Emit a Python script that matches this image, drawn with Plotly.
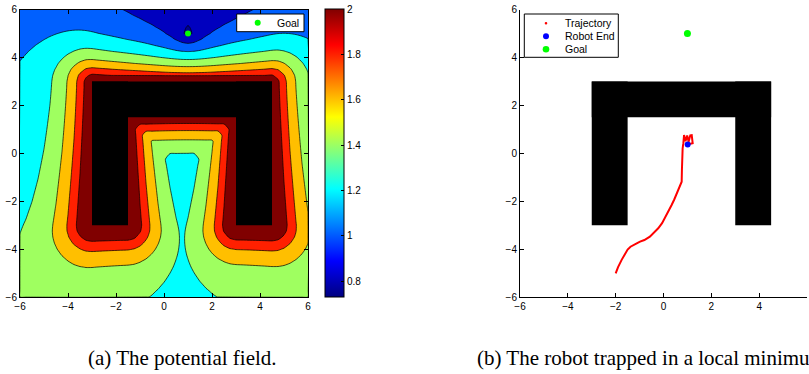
import numpy as np
import plotly.graph_objects as go

# ---------------- data ----------------
GOAL = (1.0, 5.0)
ROBOT_END = (1.01, 0.37)
# U-shaped obstacle as rectangles (x0, x1, y0, y1)
OBSTACLES = [(-3.0, -1.5, -3.0, 3.0), (3.0, 4.5, -3.0, 3.0), (-3.0, 4.5, 1.5, 3.0)]

# potential-field model evaluated on a coarse grid
GRID_MIN, GRID_MAX, GRID_STEP = -6.0, 6.0, 0.25
ATT_OFFSET = 0.713
ATT_SLOPE = 0.05
WELL_DEPTH = 0.285
WELL_WIDTH = 0.6
REP_GAIN = 1.33
REP_RANGE = 1.35
OBSTACLE_VALUE = 4.0
PAD_VALUE = 0.5          # value of the (invisible) frame around the grid -> closed contours

LEVELS = [0.8, 1.0, 1.2, 1.4, 1.6, 1.8, 2.0]
CBAR_MIN, CBAR_MAX = 0.73, 2.0
CBAR_TICKS = [0.8, 1.0, 1.2, 1.4, 1.6, 1.8, 2.0]
CBAR_TICKTEXT = ["0.8", "1", "1.2", "1.4", "1.6", "1.8", "2"]
AXIS_TICKS = [-6, -4, -2, 0, 2, 4, 6]

TRAJ_X = [-2.00, -1.90, -1.75, -1.62, -1.50, -1.38, -1.25, -1.10, -0.98, -0.80, -0.57, -0.40,
          -0.22, -0.06, 0.06, 0.20, 0.34, 0.45, 0.55, 0.66, 0.76, 0.77, 0.78, 0.80, 0.83, 0.84,
          0.86, 0.92, 0.99, 1.05, 1.12, 1.18, 1.21, 1.22, 1.12, 1.01]
TRAJ_Y = [-5.01, -4.75, -4.45, -4.20, -4.02, -3.90, -3.82, -3.75, -3.69, -3.62, -3.48, -3.33,
          -3.13, -2.92, -2.71, -2.45, -2.16, -1.93, -1.67, -1.42, -1.19, -0.70, -0.14, 0.20, 0.42, 0.69,
          0.76, 0.50, 0.74, 0.48, 0.75, 0.76, 0.60, 0.42, 0.40, 0.37]

LEGEND_LEFT = ["Goal"]
LEGEND_RIGHT = ["Trajectory", "Robot End", "Goal"]
CAPTION_A = "(a) The potential field."
CAPTION_B = "(b) The robot trapped in a local minimum."

# ---------------- styles ----------------
# colour of the region below the first level, then of each region above LEVELS[k]
BAND_COLORS = ['rgb(0,0,143)', 'rgb(0,0,191)', 'rgb(0,96,255)', 'rgb(0,255,255)',
               'rgb(159,255,96)', 'rgb(255,191,0)', 'rgb(255,32,0)', 'rgb(128,0,0)']
JET = [[0, 'rgb(0,0,128)'], [0.125, 'rgb(0,0,255)'], [0.375, 'rgb(0,255,255)'],
       [0.625, 'rgb(255,255,0)'], [0.875, 'rgb(255,0,0)'], [1, 'rgb(128,0,0)']]
RED, BLUE, GREEN = 'rgb(255,0,0)', 'rgb(0,0,255)', 'rgb(0,255,0)'
CLEAR = 'rgba(0,0,0,0)'
W, H = 809, 374
FONT = "Liberation Sans, Arial, sans-serif"
SERIF = "Liberation Serif, Times New Roman, serif"


def px(x):
    return x / W


def py(y):
    return 1 - y / H


# ---------------- field ----------------
g = np.arange(GRID_MIN, GRID_MAX + GRID_STEP / 2, GRID_STEP)
X, Y = np.meshgrid(g, g)
d_goal = np.hypot(X - GOAL[0], Y - GOAL[1])
d_obs = np.full_like(X, np.inf)
for x0, x1, y0, y1 in OBSTACLES:
    dx = np.maximum(np.maximum(x0 - X, 0), X - x1)
    dy = np.maximum(np.maximum(y0 - Y, 0), Y - y1)
    d_obs = np.minimum(d_obs, np.hypot(dx, dy))
Z = (ATT_OFFSET + ATT_SLOPE * d_goal - WELL_DEPTH * np.exp(-d_goal / WELL_WIDTH)
     + REP_GAIN * np.exp(-d_obs / REP_RANGE))
Z[d_obs <= 1e-9] = OBSTACLE_VALUE

# frame the grid one step outside the visible range so every contour is a closed loop
gp = np.concatenate([[GRID_MIN - GRID_STEP], g, [GRID_MAX + GRID_STEP]])
Zp = np.pad(Z, 1, mode='constant', constant_values=PAD_VALUE)

fig = go.Figure()
# one filled contour per level, stacked: region above each level gets its band colour
for lv, col in zip(LEVELS, BAND_COLORS[1:]):
    fig.add_trace(go.Contour(
        x=gp, y=gp, z=Zp, xaxis='x', yaxis='y',
        contours=dict(start=lv, end=lv, size=0.2, coloring='fill', showlines=True),
        line=dict(color='black', width=0.7, smoothing=0.6),
        colorscale=[[0, CLEAR], [0.25, CLEAR], [0.25, col], [1, col]],
        showscale=False, hoverinfo='skip'))

for ax in (('x', 'y'), ('x2', 'y2')):
    for x0, x1, y0, y1 in OBSTACLES:
        fig.add_trace(go.Scatter(
            x=[x0, x1, x1, x0, x0], y=[y0, y0, y1, y1, y0], xaxis=ax[0], yaxis=ax[1],
            mode='lines', fill='toself', fillcolor='black', line=dict(width=0, color='black'),
            showlegend=False, hoverinfo='skip'))

# colorbar (continuous jet)
fig.add_trace(go.Scatter(
    x=[GOAL[0]], y=[GOAL[1]], xaxis='x', yaxis='y', mode='markers',
    marker=dict(color=[CBAR_MIN], cmin=CBAR_MIN, cmax=CBAR_MAX, colorscale=JET, opacity=0, size=1,
                showscale=True,
                colorbar=dict(x=px(325), xanchor='left', y=py(297), yanchor='bottom',
                              len=(297 - 9.5) / H, lenmode='fraction', thickness=19,
                              thicknessmode='pixels', xpad=0, ypad=0, outlinecolor='black',
                              outlinewidth=1, tickvals=CBAR_TICKS, ticktext=CBAR_TICKTEXT,
                              ticks='inside', ticklen=3, tickcolor='black',
                              tickfont=dict(family=FONT, size=10, color='black'))),
    showlegend=False, hoverinfo='skip'))

fig.add_trace(go.Scatter(
    x=[GOAL[0]], y=[GOAL[1]], xaxis='x', yaxis='y', mode='markers', name=LEGEND_LEFT[0],
    marker=dict(color=GREEN, size=6), showlegend=False))

# right panel
fig.add_trace(go.Scatter(
    x=TRAJ_X, y=TRAJ_Y, xaxis='x2', yaxis='y2', mode='lines', name=LEGEND_RIGHT[0],
    line=dict(color=RED, width=2), showlegend=False, hoverinfo='skip'))
fig.add_trace(go.Scatter(
    x=[ROBOT_END[0]], y=[ROBOT_END[1]], xaxis='x2', yaxis='y2', mode='markers', name=LEGEND_RIGHT[1],
    marker=dict(color=BLUE, size=6), showlegend=False))
fig.add_trace(go.Scatter(
    x=[GOAL[0]], y=[GOAL[1]], xaxis='x2', yaxis='y2', mode='markers', name=LEGEND_RIGHT[2],
    marker=dict(color=GREEN, size=7), showlegend=False))

# ---- background band + hand-built legends (compact, MATLAB style) ----
shapes = [dict(type='rect', xref='x', yref='y', x0=GRID_MIN, x1=GRID_MAX, y0=GRID_MIN, y1=GRID_MAX,
               fillcolor=BAND_COLORS[0], line=dict(width=0), layer='below')]
annotations = []


def legend_box(x0, x1, y0, y1):
    shapes.append(dict(type='rect', xref='paper', yref='paper', x0=px(x0), x1=px(x1),
                       y0=py(y1), y1=py(y0), line=dict(color='black', width=1),
                       fillcolor='white', layer='above'))


def legend_dot(cx, cy, r, color):
    shapes.append(dict(type='circle', xref='paper', yref='paper', x0=px(cx - r), x1=px(cx + r),
                       y0=py(cy + r), y1=py(cy - r), line=dict(width=0), fillcolor=color,
                       layer='above'))


def legend_text(x, y, text):
    annotations.append(dict(text=text, x=px(x), y=py(y), xref='paper', yref='paper',
                            showarrow=False, xanchor='left', yanchor='middle',
                            font=dict(family=FONT, size=10.5, color='black')))


legend_box(236.7, 304, 14, 31.7)
legend_dot(257.7, 22.7, 3.0, GREEN)
legend_text(275, 22.7, LEGEND_LEFT[0])

legend_box(524.3, 618.3, 14, 57.3)
for (yy, rr, col), label in zip([(23.3, 1.3, RED), (36.3, 3.0, BLUE), (49.3, 3.3, GREEN)],
                                LEGEND_RIGHT):
    legend_dot(546, yy, rr, col)
    legend_text(563, yy, label)

annotations.append(dict(text=CAPTION_A, x=px(182.5), y=py(358), xref='paper', yref='paper',
                        showarrow=False, xanchor='center', yanchor='middle',
                        font=dict(family=SERIF, size=21, color='black')))
annotations.append(dict(text=CAPTION_B, x=px(475), y=py(358), xref='paper', yref='paper',
                        showarrow=False, xanchor='left', yanchor='middle',
                        font=dict(family=SERIF, size=21, color='black')))

axis_common = dict(range=[-6, 6], tickvals=AXIS_TICKS, ticks='inside', ticklen=4, tickcolor='black',
                   showline=True, linecolor='black', linewidth=1, showgrid=False, zeroline=False,
                   automargin=False, tickfont=dict(family=FONT, size=10, color='black'))
ydom = [py(297), py(9.5)]
fig.update_layout(
    width=W, height=H, autosize=False,
    margin=dict(l=0, r=0, t=0, b=0, pad=0, autoexpand=False),
    paper_bgcolor='white', plot_bgcolor='white', showlegend=False,
    xaxis=dict(domain=[px(20), px(308)], anchor='y', mirror='ticks', **axis_common),
    yaxis=dict(domain=ydom, anchor='x', mirror='ticks', **axis_common),
    xaxis2=dict(domain=[px(520), px(807)], anchor='y2', **axis_common),
    yaxis2=dict(domain=ydom, anchor='x2', **axis_common),
    shapes=shapes,
    annotations=annotations,
)

# place the figure flush with the page corner (no default 8px body margin), static image
fig.write_html("out.html", config={'staticPlot': True, 'displayModeBar': False},
               post_script="document.body.style.margin='0px';")
